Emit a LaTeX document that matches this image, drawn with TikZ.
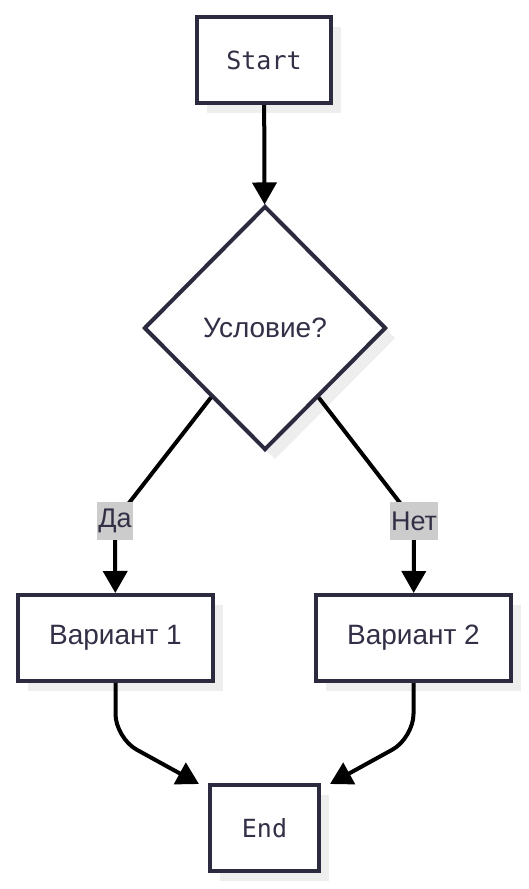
\documentclass[tikz,border=0pt]{standalone}
\usepackage{fontspec}
\setmainfont{Liberation Sans}
\newfontfamily\boxmono{DejaVu Sans Mono}
\usepackage{tikz}
\usetikzlibrary{shapes.geometric,shadows,arrows.meta}
\definecolor{boxline}{RGB}{44,42,62}
\definecolor{boxtext}{RGB}{50,48,70}
\definecolor{shadowgray}{RGB}{238,238,238}
\definecolor{labelgray}{RGB}{204,204,204}
\tikzstyle{flowshadow}=[drop shadow={shadow xshift=10pt,shadow yshift=-10pt,
                        fill=shadowgray,opacity=1}]
\tikzstyle{whitebox}=[rectangle,draw=boxline,fill=white,line width=4pt,
                      text=boxtext,inner sep=0pt,minimum height=86pt,flowshadow,
                      font=\fontsize{28}{32}\selectfont]
\tikzstyle{termbox}=[whitebox,font=\boxmono\fontsize{25}{30}\selectfont]
\tikzstyle{decision}=[diamond,aspect=1,draw=boxline,fill=white,line width=4pt,
                      text=boxtext,inner sep=0pt,minimum width=242pt,
                      minimum height=244pt,flowshadow,
                      font=\fontsize{28}{32}\selectfont]
\tikzstyle{edgelabel}=[fill=labelgray,text=boxtext,inner sep=1pt,
                       minimum height=38pt,font=\fontsize{27}{32}\selectfont]
\tikzstyle{edge}=[draw=black,line width=4pt,-{Triangle[length=22pt,width=24pt]}]

\begin{document}
\begin{tikzpicture}[x=1pt,y=-1pt]
    \useasboundingbox (0,0) rectangle (529,889);
    \node [termbox,minimum width=134pt] (start) at (264,60) {Start};
    \node [decision] (cond) at (265,328) {Условие?};
    \node [whitebox,minimum width=195pt] (var1) at (115.5,638) {Вариант 1};
    \node [whitebox,minimum width=195pt] (var2) at (413.5,638) {Вариант 2};
    \node [termbox,minimum width=109pt] (end) at (264.5,828) {End};
    \coordinate (yes) at (115,521);
    \coordinate (no) at (414,521);

    \draw [edge] (start) -- (cond);
    \draw [edge] (cond) -- (yes) -- (var1);
    \draw [edge] (cond) -- (no) -- (var2);
    \draw [edge,rounded corners=24pt] (var1.south) -- ++(0,55)
        -- ([xshift=-9pt,yshift=-1pt]end.north west);
    \draw [edge,rounded corners=24pt] (var2.south) -- ++(0,55)
        -- ([xshift=9pt,yshift=-1pt]end.north east);

    \node [edgelabel] at (yes) {Да};
    \node [edgelabel] at (no) {Нет};
\end{tikzpicture}
\end{document}
